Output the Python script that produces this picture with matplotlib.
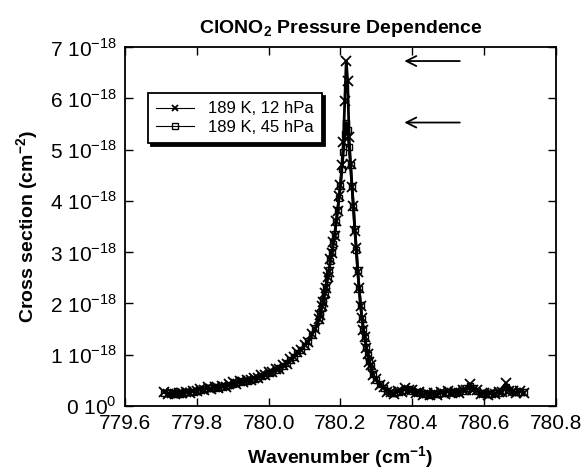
import numpy as np
import matplotlib
matplotlib.use('Agg')
import matplotlib.pyplot as plt
from matplotlib.ticker import FuncFormatter, MultipleLocator

plt.rcParams['font.family'] = ['Liberation Sans', 'DejaVu Sans']
plt.rcParams['mathtext.fontset'] = 'custom'
plt.rcParams['mathtext.rm'] = 'Liberation Sans'
plt.rcParams['mathtext.bf'] = 'Liberation Sans:bold'

# wavenumber samples (cm-1): left wing, line centre, right wing
wn_left = [779.71, 779.72, 779.73, 779.74, 779.75, 779.76, 779.77, 779.78, 779.79, 779.80,
           779.81, 779.82, 779.83, 779.84, 779.85, 779.86, 779.87, 779.88, 779.89, 779.90,
           779.91, 779.92, 779.93, 779.94, 779.95, 779.96, 779.97, 779.98, 779.99, 780.00,
           780.01, 780.02, 780.03, 780.04, 780.05, 780.06, 780.07, 780.08, 780.09, 780.10,
           780.11, 780.12, 780.13, 780.14]
wn_mid = [780.144, 780.148, 780.152, 780.156, 780.160, 780.164, 780.168, 780.172, 780.176, 780.180,
          780.184, 780.188, 780.192, 780.196, 780.200, 780.204, 780.208, 780.212, 780.216, 780.220,
          780.224, 780.228, 780.232, 780.236, 780.240, 780.244, 780.248, 780.252, 780.256, 780.260,
          780.264, 780.268, 780.272, 780.276, 780.280, 780.284]
wn_right = [780.29, 780.30, 780.31, 780.32, 780.33, 780.34, 780.35, 780.36, 780.37, 780.38,
            780.39, 780.40, 780.41, 780.42, 780.43, 780.44, 780.45, 780.46, 780.47, 780.48,
            780.49, 780.50, 780.51, 780.52, 780.53, 780.54, 780.55, 780.56, 780.57, 780.58,
            780.59, 780.60, 780.61, 780.62, 780.63, 780.64, 780.65, 780.66, 780.67, 780.68,
            780.69, 780.70, 780.71]

# cross sections in units of 1e-18 cm2
xs_12 = [0.28, 0.24, 0.26, 0.23, 0.26, 0.25, 0.28, 0.26, 0.30, 0.29,
         0.33, 0.32, 0.36, 0.33, 0.37, 0.35, 0.39, 0.37, 0.42, 0.46,
         0.42, 0.48, 0.46, 0.51, 0.50, 0.55, 0.54, 0.60, 0.60, 0.66,
         0.66, 0.72, 0.73, 0.80, 0.82, 0.91, 0.95, 1.05, 1.09, 1.19,
         1.25, 1.40, 1.51, 1.70,
         1.78, 1.95, 2.02, 2.20, 2.30, 2.52, 2.62, 2.86, 2.98, 3.20,
         3.32, 3.60, 3.80, 4.10, 4.32, 4.70, 5.15, 5.95, 6.73, 6.35,
         5.25, 4.72, 4.28, 3.90, 3.42, 3.08, 2.62, 2.30, 1.95, 1.72,
         1.48, 1.34, 1.13, 1.02, 0.86, 0.79,
         0.60, 0.52, 0.40, 0.37, 0.28, 0.27, 0.24, 0.29, 0.28, 0.34,
         0.31, 0.32, 0.25, 0.27, 0.22, 0.25, 0.21, 0.25, 0.22, 0.27,
         0.24, 0.30, 0.25, 0.28, 0.26, 0.32, 0.32, 0.42, 0.32, 0.31,
         0.24, 0.26, 0.21, 0.26, 0.23, 0.28, 0.28, 0.44, 0.29, 0.29,
         0.25, 0.30, 0.26]
xs_45 = [0.26, 0.25, 0.24, 0.25, 0.24, 0.26, 0.27, 0.27, 0.28, 0.30,
         0.31, 0.33, 0.34, 0.34, 0.35, 0.36, 0.37, 0.38, 0.40, 0.43,
         0.44, 0.46, 0.48, 0.49, 0.51, 0.53, 0.55, 0.58, 0.61, 0.64,
         0.67, 0.70, 0.74, 0.78, 0.83, 0.89, 0.96, 1.03, 1.10, 1.17,
         1.26, 1.38, 1.52, 1.67,
         1.80, 1.92, 2.04, 2.17, 2.32, 2.48, 2.65, 2.82, 3.00, 3.15,
         3.35, 3.58, 3.82, 4.05, 4.30, 4.62, 4.95, 5.30, 5.53, 5.38,
         5.05, 4.70, 4.30, 3.88, 3.45, 3.05, 2.65, 2.28, 1.97, 1.70,
         1.50, 1.32, 1.15, 1.00, 0.88, 0.77,
         0.62, 0.50, 0.42, 0.35, 0.30, 0.26, 0.25, 0.27, 0.30, 0.32,
         0.33, 0.30, 0.27, 0.25, 0.24, 0.23, 0.22, 0.23, 0.24, 0.25,
         0.26, 0.28, 0.27, 0.26, 0.28, 0.30, 0.34, 0.38, 0.34, 0.29,
         0.26, 0.24, 0.23, 0.24, 0.25, 0.26, 0.30, 0.37, 0.31, 0.27,
         0.27, 0.28, 0.27]

labels = ['189 K, 12 hPa', '189 K, 45 hPa']
yticks = [0, 1, 2, 3, 4, 5, 6, 7]

wn = np.array(wn_left + wn_mid + wn_right)
s12 = np.array(xs_12) * 1e-18
s45 = np.array(xs_45) * 1e-18

fig = plt.figure(figsize=(5.84, 4.72), dpi=100)
ax = fig.add_axes([0.214, 0.14, 0.738, 0.76])

ax.plot(wn, s12, 'k-', lw=2.0, marker='x', ms=6.5, mew=1.3, label=labels[0])
ax.plot(wn, s45, 'k-', lw=2.0, marker='s', ms=4.2, mew=1.0, mfc='none', label=labels[1])

# arrows marking the two peak heights
arr_x0, arr_x1 = 780.54, 780.37
for peak in [s12.max(), s45.max()]:
    ax.annotate('', xy=(arr_x1, peak), xytext=(arr_x0, peak),
                arrowprops=dict(arrowstyle='->', color='k', lw=1.3,
                                mutation_scale=18))

ax.set_xlim(779.6, 780.8)
ax.set_ylim(0, 7e-18)
ax.xaxis.set_major_locator(MultipleLocator(0.2))
ax.set_yticks([v * 1e-18 for v in yticks])
ax.xaxis.set_major_formatter(FuncFormatter(lambda v, p: f'{v:.1f}'))


def yfmt(v, p):
    n = int(round(v / 1e-18))
    if n == 0:
        return r'0 10$^{0}$'
    return f'{n} 10$^{{-18}}$'


ax.yaxis.set_major_formatter(FuncFormatter(yfmt))
ax.tick_params(direction='in', top=True, right=True, length=6, width=1,
               labelsize=15, pad=6)
for sp in ax.spines.values():
    sp.set_linewidth(1.3)

ax.set_title(r'ClONO$_\mathbf{2}$ Pressure Dependence', fontsize=14,
             fontweight='bold', pad=10)
ax.set_xlabel(r'Wavenumber (cm$^\mathbf{-1}$)', fontsize=14, fontweight='bold',
              labelpad=8)
ax.set_ylabel(r'Cross section (cm$^\mathbf{-2}$)', fontsize=14, fontweight='bold',
              labelpad=6)

leg = ax.legend(loc='upper left', bbox_to_anchor=(0.053, 0.872), borderaxespad=0,
                fontsize=12, handlelength=2.3, fancybox=False, framealpha=1,
                edgecolor='k', shadow={'color': 'k', 'alpha': 1},
                borderpad=0.5, labelspacing=0.2)
leg.get_frame().set_linewidth(1.3)
for h in leg.get_lines():
    h.set_linewidth(0.8)
    h.set_markersize(4)

plt.savefig('out.png', dpi=100)
